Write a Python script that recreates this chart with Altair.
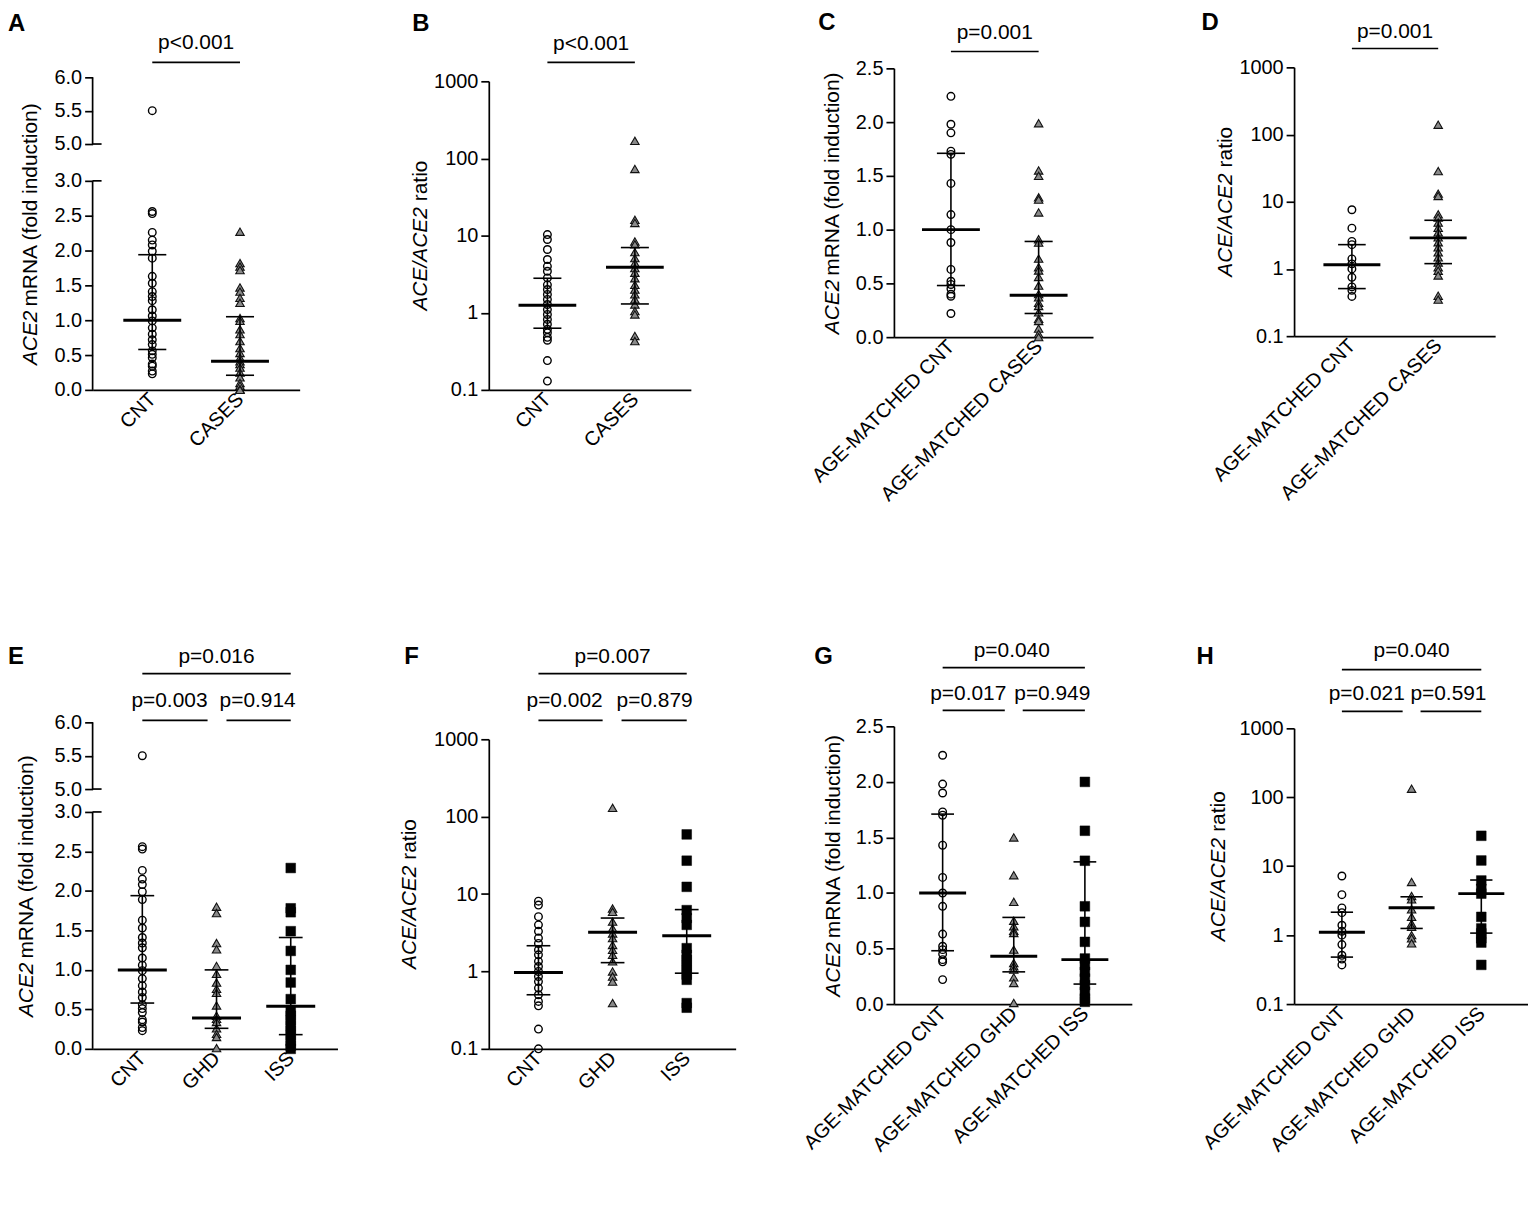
import json
import altair as alt
import pandas as pd

FONT = "Liberation Sans"

# ---------------- data ----------------
grp_all = ["CNT", "CASES"]
grp_age = ["AGE-MATCHED CNT", "AGE-MATCHED CASES"]
grp_all3 = ["CNT", "GHD", "ISS"]
grp_age3 = ["AGE-MATCHED CNT", "AGE-MATCHED GHD", "AGE-MATCHED ISS"]

# A  ACE2 mRNA, all subjects
A_cnt = [5.5, 2.56, 2.53, 2.26, 2.15, 2.08, 1.99, 1.89, 1.63, 1.53, 1.41, 1.34, 1.28, 1.15,
         1.06, 0.99, 0.89, 0.80, 0.72, 0.65, 0.56, 0.51, 0.46, 0.37, 0.34, 0.27, 0.23]
A_cases = [2.27, 1.82, 1.77, 1.72, 1.47, 1.41, 1.32, 1.25, 1.03, 0.99, 0.87, 0.80, 0.70, 0.60,
           0.53, 0.46, 0.41, 0.37, 0.32, 0.25, 0.18, 0.10, 0.06, 0.01, 0.0]
A_med = [1.0, 0.41]
A_q1 = [0.58, 0.21]
A_q3 = [1.94, 1.05]

# B  ACE/ACE2 ratio, all subjects
B_cnt = [10.3, 8.9, 6.6, 4.9, 4.0, 3.45, 2.83, 2.3, 2.0, 1.73, 1.49, 1.28, 1.1, 0.95, 0.82,
         0.71, 0.61, 0.55, 0.48, 0.44, 0.24, 0.13]
B_cases = [169, 73, 16, 14.6, 8.4, 7.7, 6.1, 5.1, 4.4, 3.8, 3.3, 2.8, 2.3, 2.0, 1.73, 1.49,
           1.28, 1.05, 0.95, 0.5, 0.43]
B_med = [1.25, 3.9]
B_q1 = [0.63, 1.3]
B_q3 = [2.8, 7.0]

# C  ACE2 mRNA, age-matched
C_cnt = [2.24, 1.98, 1.90, 1.73, 1.70, 1.43, 1.14, 1.0, 0.88, 0.63, 0.52, 0.49, 0.45, 0.40,
         0.38, 0.22]
C_cases = [1.99, 1.55, 1.50, 1.30, 1.28, 1.16, 0.91, 0.88, 0.73, 0.65, 0.62, 0.56, 0.48, 0.40,
           0.37, 0.32, 0.29, 0.23, 0.17, 0.15, 0.08, 0.03, 0.0]
C_med = [1.0, 0.39]
C_q1 = [0.48, 0.22]
C_q3 = [1.71, 0.89]

# D  ACE/ACE2 ratio, age-matched
D_cnt = [7.6, 4.05, 2.57, 2.3, 1.41, 1.19, 1.0, 0.75, 0.54, 0.48, 0.39]
D_cases = [140, 28.6, 13.2, 12.2, 6.5, 5.8, 4.9, 4.1, 3.5, 2.95, 2.5, 2.1, 1.77, 1.49, 1.25,
           1.06, 0.94, 0.80, 0.40, 0.35]
D_med = [1.15, 2.9]
D_q1 = [0.51, 1.2]
D_q3 = [2.3, 5.3]

# E  ACE2 mRNA by diagnosis
E_cnt = A_cnt
E_ghd = [1.80, 1.72, 1.34, 1.26, 1.05, 0.95, 0.84, 0.76, 0.71, 0.55, 0.42, 0.38, 0.34, 0.26,
         0.19, 0.15, 0.01]
E_iss = [2.29, 1.78, 1.73, 1.49, 1.24, 1.0, 0.84, 0.63, 0.48, 0.42, 0.36, 0.29, 0.23, 0.17,
         0.10, 0.04, 0.0]
E_med = [1.0, 0.39, 0.54]
E_q1 = [0.58, 0.26, 0.18]
E_q3 = [1.94, 1.0, 1.41]

# F  ACE/ACE2 ratio by diagnosis
F_cnt = [8.1, 7.2, 5.1, 4.0, 3.3, 2.7, 2.3, 1.9, 1.64, 1.35, 1.16, 1.0, 0.86, 0.74, 0.61,
         0.50, 0.41, 0.36, 0.18, 0.10]
F_ghd = [130, 6.5, 5.9, 4.4, 3.6, 3.1, 2.7, 2.2, 1.9, 1.64, 1.35, 1.0, 0.86, 0.74, 0.39]
F_iss = [59, 27, 12.4, 6.2, 4.9, 4.0, 2.0, 1.64, 1.41, 1.22, 1.05, 0.91, 0.78, 0.39, 0.34]
F_med = [0.97, 3.2, 2.9]
F_q1 = [0.5, 1.3, 0.95]
F_q3 = [2.15, 4.9, 6.3]

# G  ACE2 mRNA by diagnosis, age-matched
G_cnt = C_cnt
G_ghd = [1.50, 1.16, 0.92, 0.75, 0.70, 0.66, 0.64, 0.49, 0.37, 0.34, 0.31, 0.24, 0.19, 0.01]
G_iss = [2.0, 1.56, 1.29, 0.88, 0.74, 0.56, 0.41, 0.35, 0.29, 0.23, 0.17, 0.11, 0.05, 0.02]
G_med = [1.0, 0.43, 0.40]
G_q1 = [0.48, 0.29, 0.18]
G_q3 = [1.71, 0.78, 1.28]

# H  ACE/ACE2 ratio by diagnosis, age-matched
H_cnt = [7.2, 3.86, 2.48, 2.12, 1.39, 1.14, 1.0, 0.73, 0.51, 0.45, 0.37]
H_ghd = [133, 5.9, 3.7, 3.3, 2.37, 1.84, 1.47, 1.32, 1.0, 0.9, 0.76]
H_iss = [27.6, 12.1, 6.2, 4.7, 4.0, 1.84, 1.25, 1.06, 0.9, 0.78, 0.37]
H_med = [1.1, 2.5, 4.0]
H_q1 = [0.48, 1.25, 1.07]
H_q3 = [2.15, 3.6, 6.3]

mrna_ticks = [0, 0.5, 1.0, 1.5, 2.0, 2.5, 3.0, 5.0, 5.5, 6.0]
mrna_ticks_short = [0, 0.5, 1.0, 1.5, 2.0, 2.5]
ratio_ticks = [0.1, 1, 10, 100, 1000]

mrna_title = ("ACE2", "mRNA (fold induction)")
ratio_title = ("ACE/ACE2", "ratio")

# ---------------- helpers ----------------
ARIAL = {'A': 667, 'C': 722, 'E': 667, '2': 556, '/': 278, ' ': 278, 'm': 833, 'R': 722,
         'N': 722, '(': 333, ')': 333, 'f': 278, 'o': 556, 'l': 222, 'd': 556, 'i': 222,
         'n': 556, 'u': 556, 'c': 500, 't': 278, 'r': 333, 'a': 556}


def text_w(s, size):
    return sum(ARIAL.get(ch, 556) for ch in s) / 1000.0 * size


STYLE = {
    "circle": dict(shape="circle", filled=False, stroke="black", strokeWidth=1.4, size=58, opacity=1),
    "tri": dict(shape="triangle-up", filled=True, fill="#8a8a8a", stroke="#111111",
                strokeWidth=1.1, size=72, opacity=1),
    "square": dict(shape="square", filled=True, fill="black", stroke="black",
                   strokeWidth=0.5, size=95, opacity=1),
}

COLW = [398, 407, 402, 235]
TICKFS = 20
PFS = 21


def make_panel(p, col):
    n = len(p["groups"])
    xs = alt.Scale(domain=p["xdom"], range=[0, p["xlen"]], nice=False, zero=False)
    if p["ytype"] == "log":
        ys = alt.Scale(type="log", domain=p["ydom"], range=p["yrange"], nice=False)
    else:
        ys = alt.Scale(type="linear", domain=p["ydom"], range=p["yrange"], nice=False, zero=False)
    broken = len(p["ydom"]) > 2
    xaxis = alt.Axis(values=list(range(n)), labelExpr=json.dumps(p["groups"]) + "[datum.value]",
                     labelAngle=-45, labelAlign="right", labelBaseline="middle",
                     ticks=False, grid=False, title=None, domainColor="black", domainWidth=1.7,
                     labelFont=FONT, labelFontSize=TICKFS, labelColor="black", labelPadding=6,
                     labelFlush=False, labelOverlap=False, labelLimit=0)
    yaxis = alt.Axis(values=p["yticks"], format=p["fmt"], title=None, grid=False,
                     domain=not broken, domainColor="black", domainWidth=1.7,
                     tickColor="black", tickWidth=1.7, tickSize=8,
                     labelFont=FONT, labelFontSize=TICKFS, labelColor="black", labelPadding=3,
                     labelFlush=False, labelOverlap=False)

    def X(f):
        return alt.X(f, scale=xs, axis=xaxis)

    def Y(f):
        return alt.Y(f, scale=ys, axis=yaxis)

    layers = []
    # points
    for gi, (vals, st) in enumerate(zip(p["series"], p["styles"])):
        df = pd.DataFrame({"g": [gi] * len(vals), "v": vals})
        layers.append(alt.Chart(df).mark_point(**STYLE[st]).encode(x=X("g:Q"), y=Y("v:Q")))

    # median + interquartile range
    sd = pd.DataFrame({"g": list(range(n)), "med": p["med"], "q1": p["q1"], "q3": p["q3"]})
    sd["xl"] = sd["g"] - 0.16
    sd["xr"] = sd["g"] + 0.16
    sd["ml"] = sd["g"] - 0.33
    sd["mr"] = sd["g"] + 0.33
    base = alt.Chart(sd)
    layers.append(base.mark_rule(color="black", strokeWidth=1.6).encode(x=X("g:Q"), y=Y("q1:Q"), y2="q3:Q"))
    layers.append(base.mark_rule(color="black", strokeWidth=1.6).encode(x=X("xl:Q"), x2="xr:Q", y=Y("q1:Q")))
    layers.append(base.mark_rule(color="black", strokeWidth=1.6).encode(x=X("xl:Q"), x2="xr:Q", y=Y("q3:Q")))
    layers.append(base.mark_rule(color="black", strokeWidth=3).encode(x=X("ml:Q"), x2="mr:Q", y=Y("med:Q")))

    # broken axis line
    if broken:
        seg = pd.DataFrame({"y0": [p["ydom"][0], p["ydom"][2]], "y1": [p["ydom"][1], p["ydom"][3]]})
        layers.append(alt.Chart(seg).mark_rule(color="black", strokeWidth=1.7).encode(
            x=alt.value(0), y=Y("y0:Q"), y2="y1:Q"))
        brk = pd.DataFrame({"yb": [p["ydom"][1], p["ydom"][2]]})
        layers.append(alt.Chart(brk).mark_rule(color="black", strokeWidth=1.7).encode(
            x=alt.value(0), x2=alt.value(9), y=Y("yb:Q")))

    # significance brackets
    for b in p["brackets"]:
        bd = pd.DataFrame({"x1": [b["g1"]], "x2": [b["g2"]], "xm": [(b["g1"] + b["g2"]) / 2.0],
                           "t": [b["text"]]})
        layers.append(alt.Chart(bd).mark_rule(color="black", strokeWidth=1.6,
                                              xOffset=b.get("o1", 0), x2Offset=b.get("o2", 0)).encode(
            x=X("x1:Q"), x2="x2:Q", y=alt.value(b["y"])))
        layers.append(alt.Chart(bd).mark_text(font=FONT, fontSize=PFS, color="black",
                                              baseline="alphabetic", dx=b.get("dx", 0)).encode(
            x=X("xm:Q"), y=alt.value(b["ty"]), text="t:N"))

    # y title with italic gene name
    fs = 21
    it, rest = p["title"]
    gap = 4 if rest.startswith("mRNA") else 6
    w_it = text_w(it, fs)
    w_rest = text_w(rest, fs)
    total = w_it + gap + w_rest
    yc = (p["yrange"][0] + p["yrange"][-1]) / 2.0
    bottom = yc + total / 2.0
    ya = bottom - w_it
    t1 = pd.DataFrame({"t": [it]})
    t2 = pd.DataFrame({"t": [rest]})
    layers.append(alt.Chart(t1).mark_text(font=FONT, fontSize=fs, fontStyle="italic", angle=270,
                                          align="right", baseline="middle", color="black").encode(
        x=alt.value(p["tx"]), y=alt.value(ya), text="t:N"))
    layers.append(alt.Chart(t2).mark_text(font=FONT, fontSize=fs, angle=270,
                                          align="left", baseline="middle", color="black").encode(
        x=alt.value(p["tx"]), y=alt.value(ya - gap), text="t:N"))

    # panel letter
    ld = pd.DataFrame({"t": [p["letter"]]})
    layers.append(alt.Chart(ld).mark_text(font=FONT, fontSize=24, fontWeight="bold", color="black",
                                          align="left", baseline="top").encode(
        x=alt.value(p["lx"]), y=alt.value(p["ly"]), text="t:N"))

    return alt.layer(*layers).properties(width=COLW[col], height=p["h"])


panels = [
    dict(letter="A", groups=grp_all, series=[A_cnt, A_cases], styles=["circle", "tri"],
         med=A_med, q1=A_q1, q3=A_q3, ytype="linear", ydom=[0, 3, 5, 6], yrange=[324, 114, 77, 10],
         yticks=mrna_ticks, fmt=".1f", xdom=[-0.68, 1.68], xlen=208, h=324, title=mrna_title,
         tx=-62, lx=-85, ly=-56,
         brackets=[dict(g1=0, g2=1, y=-5, ty=-18, text="p<0.001")]),
    dict(letter="B", groups=grp_all, series=[B_cnt, B_cases], styles=["circle", "tri"],
         med=B_med, q1=B_q1, q3=B_q3, ytype="log", ydom=[0.1, 1000], yrange=[324, 14],
         yticks=ratio_ticks, fmt="~g", xdom=[-0.67, 1.64], xlen=203, h=324, title=ratio_title,
         tx=-68, lx=-77, ly=-56,
         brackets=[dict(g1=0, g2=1, y=-5, ty=-17, text="p<0.001")]),
    dict(letter="C", groups=grp_age, series=[C_cnt, C_cases], styles=["circle", "tri"],
         med=C_med, q1=C_q1, q3=C_q3, ytype="linear", ydom=[0, 2.5], yrange=[271, 1],
         yticks=mrna_ticks_short, fmt=".1f", xdom=[-0.65, 1.62], xlen=200, h=271, title=mrna_title,
         tx=-61, lx=-76, ly=-57,
         brackets=[dict(g1=0, g2=1, y=-16, ty=-29, text="p=0.001")]),
    dict(letter="D", groups=grp_age, series=[D_cnt, D_cases], styles=["circle", "tri"],
         med=D_med, q1=D_q1, q3=D_q3, ytype="log", ydom=[0.1, 1000], yrange=[270, 0],
         yticks=ratio_ticks, fmt="~g", xdom=[-0.67, 1.66], xlen=202, h=270, title=ratio_title,
         tx=-68, lx=-93, ly=-57,
         brackets=[dict(g1=0, g2=1, y=-19, ty=-30, text="p=0.001")]),
    dict(letter="E", groups=grp_all3, series=[E_cnt, E_ghd, E_iss], styles=["circle", "tri", "square"],
         med=E_med, q1=E_q1, q3=E_q3, ytype="linear", ydom=[0, 3, 5, 6], yrange=[328, 90, 67, 0],
         yticks=mrna_ticks, fmt=".1f", xdom=[-0.67, 2.63], xlen=246, h=328, title=mrna_title,
         tx=-66, lx=-85, ly=-78,
         brackets=[dict(g1=0, g2=2, y=-49, ty=-60, text="p=0.016"),
                   dict(g1=0, g2=1, y=-2, ty=-15, text="p=0.003", o2=-9, dx=-10),
                   dict(g1=1, g2=2, y=-2, ty=-15, text="p=0.914", o1=10, dx=4)]),
    dict(letter="F", groups=grp_all3, series=[F_cnt, F_ghd, F_iss], styles=["circle", "tri", "square"],
         med=F_med, q1=F_q1, q3=F_q3, ytype="log", ydom=[0.1, 1000], yrange=[328, 17],
         yticks=ratio_ticks, fmt="~g", xdom=[-0.67, 2.66], xlen=248, h=328, title=ratio_title,
         tx=-79, lx=-85, ly=-78,
         brackets=[dict(g1=0, g2=2, y=-49, ty=-60, text="p=0.007"),
                   dict(g1=0, g2=1, y=-2, ty=-15, text="p=0.002", o2=-10, dx=-11),
                   dict(g1=1, g2=2, y=-2, ty=-15, text="p=0.879", o1=9, dx=5)]),
    dict(letter="G", groups=grp_age3, series=[G_cnt, G_ghd, G_iss], styles=["circle", "tri", "square"],
         med=G_med, q1=G_q1, q3=G_q3, ytype="linear", ydom=[0, 2.5], yrange=[283, 4],
         yticks=mrna_ticks_short, fmt=".1f", xdom=[-0.685, 2.66], xlen=239, h=283, title=mrna_title,
         tx=-60, lx=-80, ly=-78,
         brackets=[dict(g1=0, g2=2, y=-55, ty=-66, text="p=0.040", dx=-2),
                   dict(g1=0, g2=1, y=-12, ty=-22, text="p=0.017", o2=-9, dx=-10),
                   dict(g1=1, g2=2, y=-12, ty=-22, text="p=0.949", o1=9, dx=3)]),
    dict(letter="H", groups=grp_age3, series=[H_cnt, H_ghd, H_iss], styles=["circle", "tri", "square"],
         med=H_med, q1=H_q1, q3=H_q3, ytype="log", ydom=[0.1, 1000], yrange=[283, 6],
         yticks=ratio_ticks, fmt="~g", xdom=[-0.686, 2.67], xlen=235, h=283, title=ratio_title,
         tx=-75, lx=-98, ly=-78,
         brackets=[dict(g1=0, g2=2, y=-53, ty=-66, text="p=0.040"),
                   dict(g1=0, g2=1, y=-11, ty=-22, text="p=0.021", o2=-9, dx=-10),
                   dict(g1=1, g2=2, y=-11, ty=-22, text="p=0.591", o1=9, dx=2)]),
]

charts = [make_panel(p, i % 4) for i, p in enumerate(panels)]

chart = alt.concat(*charts, columns=4, spacing={"row": 334, "column": 0}, bounds="flush").properties(
    padding=0,
    background="white",
).configure_view(stroke=None)

chart.save("out.html", embed_options={"renderer": "svg", "actions": False})
